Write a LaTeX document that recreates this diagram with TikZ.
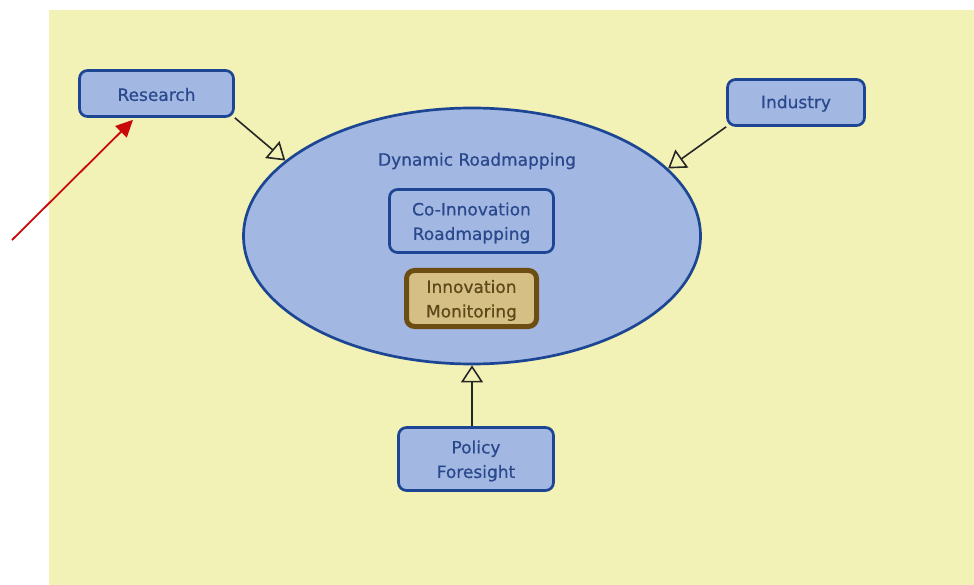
\documentclass[tikz,border=0pt]{standalone}
\usepackage{fontspec}
\setmainfont{DejaVu Sans}[FakeBold=0.6, AutoFakeBold=0]
\newfontfamily\labelfont{DejaVu Sans}[FakeBold=0.6]
\usetikzlibrary{shapes.geometric,arrows.meta,calc}

\definecolor{bgyellow}{RGB}{243,242,182}
\definecolor{boxfill}{RGB}{162,183,226}
\definecolor{boxline}{RGB}{28,70,148}
\definecolor{boxtext}{RGB}{42,72,140}
\definecolor{monfill}{RGB}{214,191,132}
\definecolor{monline}{RGB}{108,78,18}
\definecolor{montext}{RGB}{92,72,24}
\definecolor{pointer}{RGB}{200,10,10}

\tikzset{
  txt/.style={font=\labelfont\fontsize{17}{24.5}\selectfont, align=center, inner sep=0pt},
  frame/.style={draw=boxline, line width=2.7pt, rounded corners=8pt, inner sep=0pt},
  actor/.style={frame, fill=boxfill},
  monitor/.style={draw=monline, fill=monfill, line width=5pt,
    rounded corners=8pt, inner sep=0pt},
  caption/.style={txt, text=boxtext, yshift=-2pt},
  feed/.style={draw=black!85, line width=1.6pt,
    -{Triangle[open, length=17pt, width=22pt, line width=1.6pt]}},
}

\begin{document}
\begin{tikzpicture}[x=1pt, y=-1pt]
  \useasboundingbox (0,0) rectangle (974,585);
  % canvas
  \fill[bgyellow] (49,10) rectangle (974,585);

  % central ellipse
  \node[ellipse, draw=boxline, fill=boxfill, line width=2.7pt,
        minimum width=457pt, minimum height=256pt, inner sep=0pt]
        (dyn) at (472,236) {};
  \node[txt, text=boxtext] (dynlabel) at (477,161) {Dynamic Roadmapping};

  \node[frame, minimum width=164pt, minimum height=63pt]
        (coinno) at (471.5,221) {};
  \node[caption] (coinnotext) at (coinno.center) {Co-Innovation\\Roadmapping};
  \node[monitor, minimum width=130pt, minimum height=56pt]
        (monit) at (471.5,298.5) {};
  \node[caption, text=montext] (monittext) at (monit.center) {Innovation\\Monitoring};

  % surrounding actors
  \node[actor, minimum width=154pt, minimum height=46pt]
        (research) at (156.5,93.5) {};
  \node[caption, yshift=1pt] (researchtext) at (research.center) {Research};
  \node[actor, minimum width=137pt, minimum height=46pt]
        (industry) at (796,102.5) {};
  \node[caption, yshift=1pt] (industrytext) at (industry.center) {Industry};
  \node[actor, minimum width=155pt, minimum height=63pt]
        (policy) at (476,459) {};
  \node[caption] (policytext) at (policy.center) {Policy\\Foresight};

  % inputs into the roadmapping
  \draw[feed] (research.south east) -- (dyn.158);
  \draw[feed] (industry.south west) -- (dyn.19);
  \draw[feed] (policy.north -| dyn.south) -- (dyn.south);

  % pointer to Research
  \coordinate (ptrstart) at (12,240);
  \draw[pointer, line width=1.8pt, -{Triangle[length=17pt, width=16pt]}]
        (ptrstart) -- ($(research.south west)!0.35!(research.south east)+(0,2)$);
\end{tikzpicture}
\end{document}
